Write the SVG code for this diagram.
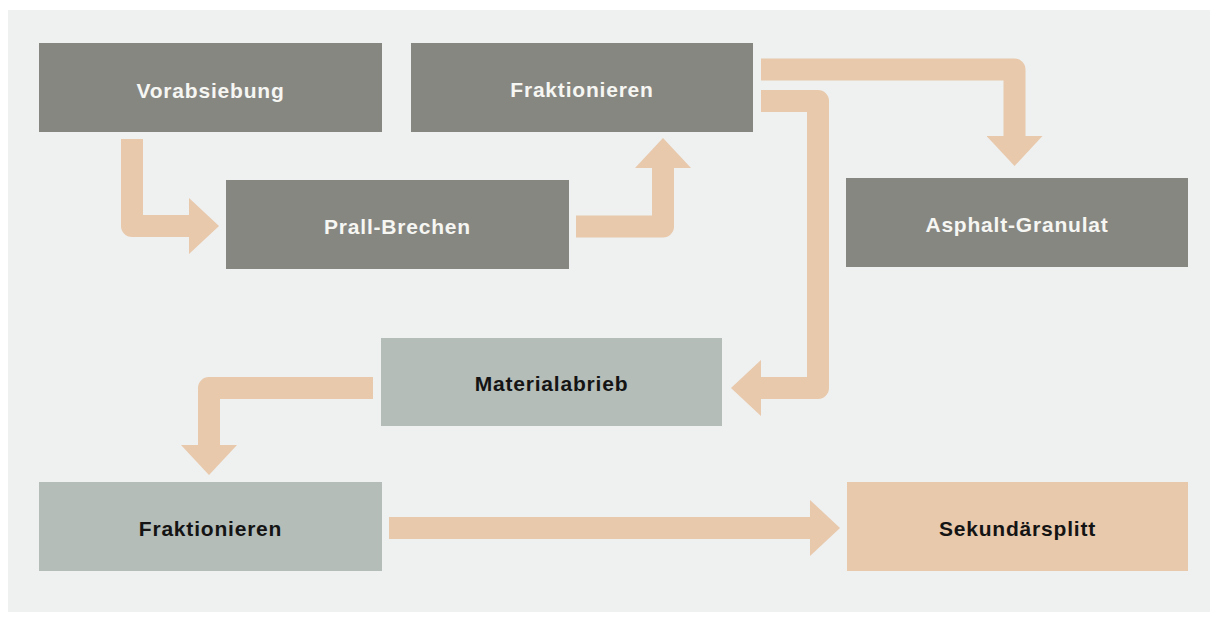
<svg xmlns="http://www.w3.org/2000/svg" width="1217" height="618" viewBox="0 0 1217 618">
<defs>
<style>
.bg{fill:#eff0f0}
.dark{fill:#878782}
.light{fill:#b5bdb8}
.peach{fill:#e8c9ab}
.lbl{font-family:"Liberation Sans",Arial,sans-serif;font-size:21px;font-weight:bold;letter-spacing:0.8px;text-anchor:middle}
.w{fill:#f6f6f3}
.k{fill:#141414}
.flow{fill:none;stroke:#e8c9ab;stroke-width:22;stroke-linejoin:round;stroke-linecap:butt}
</style>
<marker id="head" markerUnits="userSpaceOnUse" viewBox="0 0 30 56" refX="0" refY="28" markerWidth="30" markerHeight="56" orient="auto">
<path d="M0,0 L30,28 L0,56 Z" fill="#e8c9ab"/>
</marker>
</defs>
<rect width="1217" height="618" fill="#ffffff"/>
<rect class="bg" x="8" y="10" width="1202" height="602"/>

<g id="connectors">
<path class="flow" marker-end="url(#head)" d="M132,139 L132,226 L189,226"/>
<path class="flow" marker-end="url(#head)" d="M576,226.5 L663,226.5 L663,168"/>
<path class="flow" marker-end="url(#head)" d="M761,69.5 L1014.5,69.5 L1014.5,136"/>
<path class="flow" marker-end="url(#head)" d="M761,101 L818,101 L818,388 L761,388"/>
<path class="flow" marker-end="url(#head)" d="M373,388 L209,388 L209,445"/>
<path class="flow" marker-end="url(#head)" d="M389,528 L810,528"/>
</g>

<g id="vorabsiebung">
<rect class="dark" x="39" y="43" width="343" height="89"/>
<text class="lbl w" x="210.5" y="97.5">Vorabsiebung</text>
</g>
<g id="fraktionieren1">
<rect class="dark" x="411" y="43" width="342" height="89"/>
<text class="lbl w" x="582" y="97">Fraktionieren</text>
</g>
<g id="prall-brechen">
<rect class="dark" x="226" y="180" width="343" height="89"/>
<text class="lbl w" x="397.5" y="234">Prall-Brechen</text>
</g>
<g id="asphalt-granulat">
<rect class="dark" x="846" y="178" width="342" height="89"/>
<text class="lbl w" x="1017" y="231.5">Asphalt-Granulat</text>
</g>
<g id="materialabrieb">
<rect class="light" x="381" y="338" width="341" height="88"/>
<text class="lbl k" x="551.5" y="391">Materialabrieb</text>
</g>
<g id="fraktionieren2">
<rect class="light" x="39" y="482" width="343" height="89"/>
<text class="lbl k" x="210.5" y="536">Fraktionieren</text>
</g>
<g id="sekundaersplitt">
<rect class="peach" x="847" y="482" width="341" height="89"/>
<text class="lbl k" x="1017.5" y="536">Sekundärsplitt</text>
</g>
</svg>
